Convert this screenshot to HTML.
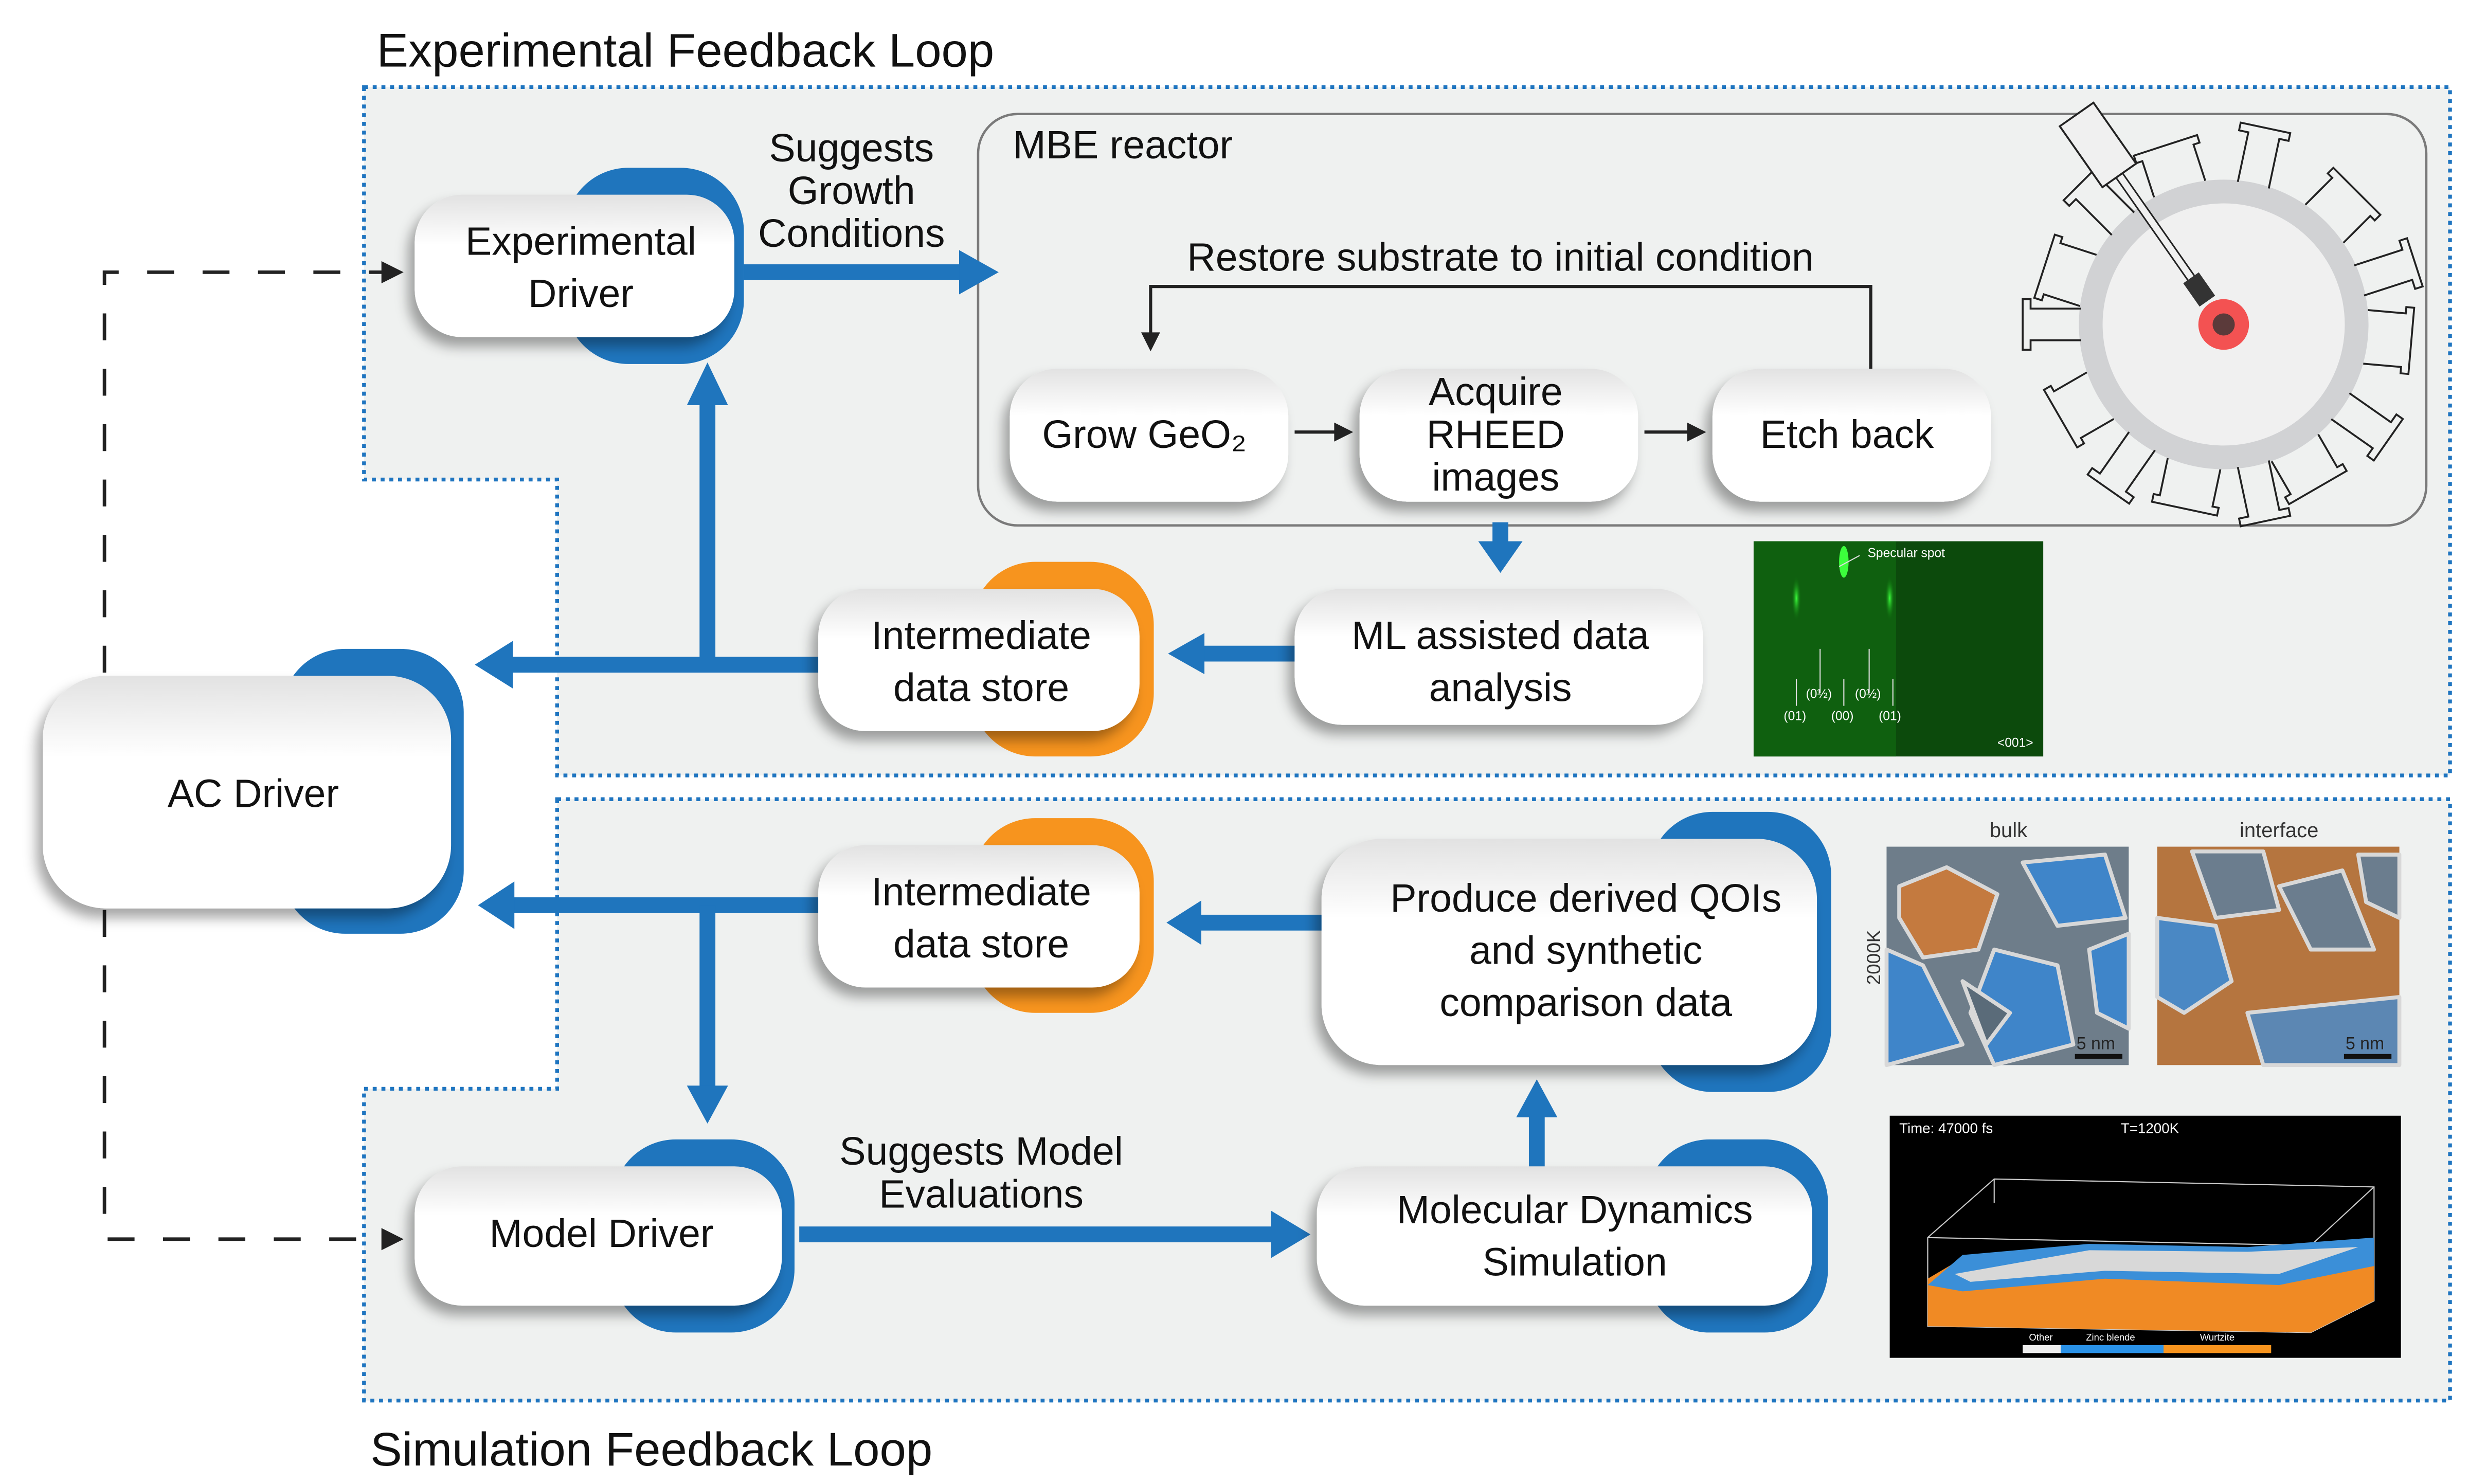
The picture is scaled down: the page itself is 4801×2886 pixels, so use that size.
<!DOCTYPE html>
<html><head><meta charset="utf-8">
<style>
html,body{margin:0;padding:0;background:#fff;}
svg{display:block;}
text{font-family:"Liberation Sans Narrow","Liberation Sans",sans-serif;fill:#111;}
</style></head>
<body>
<svg width="4801" height="2886" viewBox="0 0 1560 937.7" xmlns="http://www.w3.org/2000/svg">
<defs>
<linearGradient id="wg" x1="0" y1="0" x2="0" y2="1">
<stop offset="0" stop-color="#e2e2e2"/><stop offset="0.35" stop-color="#ffffff"/><stop offset="1" stop-color="#ffffff"/>
</linearGradient>
<filter id="sh" x="-20%" y="-20%" width="140%" height="150%">
<feDropShadow dx="-4" dy="6" stdDeviation="4" flood-color="#000" flood-opacity="0.35"/>
</filter>
<radialGradient id="gs" cx="0.5" cy="0.5" r="0.5"><stop offset="0" stop-color="#3cff3c"/><stop offset="1" stop-color="#0a6a0a" stop-opacity="0"/></radialGradient>
<g id="port"><path d="M-10,-90 L-10,-122 L-16,-122 L-16,-127 L16,-127 L16,-122 L10,-122 L10,-90" fill="none" stroke="#222" stroke-width="1.2"/></g>
<g id="bport"><path d="M-17,-90 L-17,-114 L-21,-114 L-21,-119 L21,-119 L21,-114 L17,-114 L17,-90" fill="none" stroke="#222" stroke-width="1.2"/></g>
</defs>

<path d="M230,55 H1548 V490 H352 V303 H230 Z" fill="#eff1f0" stroke="#1f75c0" stroke-width="2.4" stroke-dasharray="2.5 3"/>
<path d="M352,505 H1548 V885 H230 V688 H352 Z" fill="#eff1f0" stroke="#1f75c0" stroke-width="2.4" stroke-dasharray="2.5 3"/>
<text x="238" y="42" font-size="30">Experimental Feedback Loop</text>
<text x="234" y="926" font-size="30">Simulation Feedback Loop</text>

<rect x="618" y="72" width="915" height="260" rx="25" fill="#eff1f0" stroke="#7a7a7a" stroke-width="1.5"/>
<text x="640" y="100" font-size="25">MBE reactor</text>

<g transform="translate(1405,205)">
<circle r="84" fill="#f0f0f0" stroke="#d1d2d4" stroke-width="15"/>
<use href="#port" transform="rotate(12)"/>
<use href="#bport" transform="rotate(-18)"/>
<use href="#port" transform="rotate(-45)" />
<use href="#bport" transform="rotate(45)"/>
<use href="#port" transform="rotate(72)"/>
<use href="#bport" transform="rotate(95)"/>
<use href="#port" transform="rotate(125)"/>
<use href="#bport" transform="rotate(150)"/>
<use href="#port" transform="rotate(168)"/>
<use href="#bport" transform="rotate(192)"/>
<use href="#port" transform="rotate(215)"/>
<use href="#bport" transform="rotate(240)"/>
<use href="#port" transform="rotate(270)"/>
<use href="#bport" transform="rotate(288)"/>
<g transform="rotate(-35)">
<rect x="-2.5" y="-115" width="5" height="85" fill="#f0f0f0" stroke="#222" stroke-width="1"/>
<rect x="-13" y="-162" width="26" height="47" fill="#f0f0f0" stroke="#222" stroke-width="1.2"/>
<rect x="-6" y="-36" width="12" height="18" fill="#333"/>
</g>
<circle cx="0" cy="0" r="16" fill="#f35252"/>
<circle cx="0" cy="0" r="7" fill="#5b3a3a"/>
</g>

<text x="948" y="171" font-size="25" text-anchor="middle">Restore substrate to initial condition</text>
<path d="M1182,233 V181 H727 V212" fill="none" stroke="#222" stroke-width="2"/>
<path d="M721,210 L733,210 L727,222 Z" fill="#222"/>

<g filter="url(#sh)">
<rect x="638" y="233" width="176" height="84" rx="30" fill="url(#wg)"/>
<rect x="859" y="233" width="176" height="84" rx="30" fill="url(#wg)"/>
<rect x="1082" y="233" width="176" height="84" rx="30" fill="url(#wg)"/>
</g>
<text x="723" y="283" font-size="25" text-anchor="middle">Grow GeO₂</text>
<text x="945" y="256" font-size="25" text-anchor="middle">Acquire</text>
<text x="945" y="283" font-size="25" text-anchor="middle">RHEED</text>
<text x="945" y="310" font-size="25" text-anchor="middle">images</text>
<text x="1167" y="283" font-size="25" text-anchor="middle">Etch back</text>
<path d="M818,273 H845" stroke="#222" stroke-width="2"/><path d="M843,267 L855,273 L843,279 Z" fill="#222"/>
<path d="M1039,273 H1068" stroke="#222" stroke-width="2"/><path d="M1066,267 L1078,273 L1066,279 Z" fill="#222"/>

<g fill="#1f75bd">
<rect x="470" y="167" width="142" height="10"/><path d="M606,158 L631,172 L606,186 Z"/>
<rect x="442" y="255" width="10" height="165"/><path d="M434,256 L447,229 L460,256 Z"/>
<rect x="322" y="415" width="196" height="10"/><path d="M324,405 L300,420 L324,435 Z"/>
<rect x="760" y="408" width="60" height="10"/><path d="M761,400 L738,413 L761,426 Z"/>
<rect x="943" y="330" width="10" height="14"/><path d="M934,342 L948,362 L962,342 Z"/>
<rect x="324" y="567" width="194" height="10"/><path d="M325,557 L302,572 L325,587 Z"/>
<rect x="442" y="572" width="10" height="116"/><path d="M434,686 L447,710 L460,686 Z"/>
<rect x="758" y="578" width="78" height="10"/><path d="M759,569 L737,583 L759,597 Z"/>
<rect x="966" y="704" width="10" height="34"/><path d="M958,706 L971,682 L984,706 Z"/>
<rect x="505" y="775" width="300" height="10"/><path d="M803,765 L828,780 L803,795 Z"/>
</g>
<text x="538" y="102" font-size="25" text-anchor="middle">Suggests</text>
<text x="538" y="129" font-size="25" text-anchor="middle">Growth</text>
<text x="538" y="156" font-size="25" text-anchor="middle">Conditions</text>
<text x="620" y="736" font-size="25" text-anchor="middle">Suggests Model</text>
<text x="620" y="763" font-size="25" text-anchor="middle">Evaluations</text>

<path d="M66,425 V172 H243" fill="none" stroke="#222" stroke-width="2.2" stroke-dasharray="17 18"/>
<path d="M241,165 L255,172 L241,179 Z" fill="#222"/>
<path d="M66,575 V783 H243" fill="none" stroke="#222" stroke-width="2.2" stroke-dasharray="17 18"/>
<path d="M241,776 L255,783 L241,790 Z" fill="#222"/>

<rect x="357" y="106" width="113" height="124" rx="40" fill="#1f75bd"/>
<rect x="178" y="410" width="115" height="180" rx="40" fill="#1f75bd"/>
<rect x="614" y="355" width="115" height="123" rx="40" fill="#f7941e"/>
<rect x="614" y="517" width="115" height="123" rx="40" fill="#f7941e"/>
<rect x="1042" y="513" width="115" height="177" rx="40" fill="#1f75bd"/>
<rect x="1040" y="720" width="115" height="122" rx="40" fill="#1f75bd"/>
<rect x="387" y="720" width="115" height="122" rx="40" fill="#1f75bd"/>

<g filter="url(#sh)">
<rect x="262" y="123" width="202" height="90" rx="30" fill="url(#wg)"/>
<rect x="27" y="427" width="258" height="147" rx="40" fill="url(#wg)"/>
<rect x="517" y="372" width="203" height="90" rx="30" fill="url(#wg)"/>
<rect x="818" y="372" width="258" height="86" rx="30" fill="url(#wg)"/>
<rect x="517" y="534" width="203" height="90" rx="30" fill="url(#wg)"/>
<rect x="835" y="530" width="313" height="143" rx="38" fill="url(#wg)"/>
<rect x="832" y="737" width="313" height="88" rx="30" fill="url(#wg)"/>
<rect x="262" y="737" width="232" height="88" rx="30" fill="url(#wg)"/>
</g>
<g font-size="25" text-anchor="middle">
<text x="367" y="161">Experimental</text>
<text x="367" y="194">Driver</text>
<text x="160" y="510">AC Driver</text>
<text x="620" y="410">Intermediate</text>
<text x="620" y="443">data store</text>
<text x="948" y="410">ML assisted data</text>
<text x="948" y="443">analysis</text>
<text x="620" y="572">Intermediate</text>
<text x="620" y="605">data store</text>
<text x="1002" y="576">Produce derived QOIs</text>
<text x="1002" y="609">and synthetic</text>
<text x="1002" y="642">comparison data</text>
<text x="995" y="773">Molecular Dynamics</text>
<text x="995" y="806">Simulation</text>
<text x="380" y="788">Model Driver</text>
</g>

<rect x="1108" y="342" width="183" height="136" fill="#0c4a0c"/>
<rect x="1108" y="342" width="90" height="136" fill="#127012" opacity="0.6"/>
<ellipse cx="1165" cy="355" rx="3" ry="10" fill="#3cff3c"/>
<ellipse cx="1135" cy="378" rx="3" ry="14" fill="url(#gs)"/>
<ellipse cx="1194" cy="378" rx="3" ry="14" fill="url(#gs)"/>
<g stroke="#ddd" stroke-width="0.7">
<line x1="1135" y1="429" x2="1135" y2="446"/><line x1="1150" y1="410" x2="1150" y2="438"/>
<line x1="1165" y1="429" x2="1165" y2="446"/><line x1="1181" y1="410" x2="1181" y2="438"/>
<line x1="1196" y1="429" x2="1196" y2="446"/>
<line x1="1162" y1="358" x2="1175" y2="351"/>
</g>
<g font-size="8">
<text x="1180" y="352" style="fill:#fff">Specular spot</text>
<text x="1127" y="455" style="fill:#fff">(01)</text>
<text x="1157" y="455" style="fill:#fff">(00)</text>
<text x="1187" y="455" style="fill:#fff">(01)</text>
<text x="1141" y="441" style="fill:#fff">(0½)</text>
<text x="1172" y="441" style="fill:#fff">(0½)</text>
<text x="1262" y="472" style="fill:#fff">&lt;001&gt;</text>
</g>

<text x="1269" y="529" font-size="13" text-anchor="middle" style="fill:#333">bulk</text>
<text x="1440" y="529" font-size="13" text-anchor="middle" style="fill:#333">interface</text>
<text x="1188" y="605" font-size="12" text-anchor="middle" transform="rotate(-90 1188 605)" style="fill:#333">2000K</text>
<rect x="1192" y="535" width="153" height="138" fill="#6e7d8a"/>
<g stroke="#d8d8d8" stroke-width="2.5" stroke-linejoin="round">
<path d="M1200,560 L1230,548 L1262,565 L1250,600 L1215,605 L1200,580 Z" fill="#c47a3f"/>
<path d="M1278,545 L1330,540 L1343,580 L1300,585 Z" fill="#3f85c9"/>
<path d="M1192,600 L1215,610 L1240,660 L1192,673 Z" fill="#3f85c9"/>
<path d="M1260,600 L1300,610 L1310,660 L1260,673 L1245,640 Z" fill="#3f85c9"/>
<path d="M1320,600 L1345,590 L1345,650 L1325,640 Z" fill="#3f85c9"/>
<path d="M1240,620 L1270,640 L1255,660 Z" fill="#5a6b79"/>
</g>
<rect x="1363" y="535" width="153" height="138" fill="#b5753f"/>
<g stroke="#d8d8d8" stroke-width="2.5" stroke-linejoin="round">
<path d="M1385,538 L1430,538 L1440,575 L1400,580 Z" fill="#6b7d8e"/>
<path d="M1363,580 L1400,585 L1410,620 L1380,640 L1363,630 Z" fill="#4a88c4"/>
<path d="M1440,560 L1480,550 L1500,600 L1460,600 Z" fill="#6b7d8e"/>
<path d="M1420,640 L1516,630 L1516,673 L1430,673 Z" fill="#5c87b3"/>
<path d="M1490,540 L1516,540 L1516,580 L1495,570 Z" fill="#6b7d8e"/>
</g>
<rect x="1311" y="666" width="30" height="3" fill="#111"/><text x="1312" y="663" font-size="11" style="fill:#222">5 nm</text>
<rect x="1481" y="666" width="30" height="3" fill="#111"/><text x="1482" y="663" font-size="11" style="fill:#222">5 nm</text>

<rect x="1194" y="705" width="323" height="153" fill="#000"/>
<text x="1200" y="716" font-size="9" style="fill:#fff">Time: 47000 fs</text>
<text x="1340" y="716" font-size="9" style="fill:#fff">T=1200K</text>
<g fill="none" stroke="#ccc" stroke-width="0.7">
<path d="M1218,782 L1260,745 L1500,750 L1500,822 L1460,842 L1218,838 Z"/>
<path d="M1218,782 L1460,787 L1500,750 M1460,787 L1460,842 M1260,745 L1260,760"/>
</g>
<path d="M1218,808 L1240,795 L1320,790 L1420,792 L1500,786 L1500,822 L1460,842 L1218,838 Z" fill="#f08a24"/>
<path d="M1218,812 L1240,793 L1320,786 L1420,788 L1500,782 L1500,800 L1440,812 L1330,808 L1240,816 Z" fill="#3b8fd8"/>
<path d="M1235,805 L1320,790 L1420,791 L1490,788 L1440,805 L1330,803 L1245,810 Z" fill="#d8d8d8"/>
<rect x="1278" y="850" width="24" height="5" fill="#eee"/>
<rect x="1302" y="850" width="65" height="5" fill="#2a92e8"/>
<rect x="1367" y="850" width="68" height="5" fill="#f7941e"/>
<g font-size="6"><text x="1282" y="847" style="fill:#fff">Other</text><text x="1318" y="847" style="fill:#fff">Zinc blende</text><text x="1390" y="847" style="fill:#fff">Wurtzite</text></g>
</svg>
</body></html>
